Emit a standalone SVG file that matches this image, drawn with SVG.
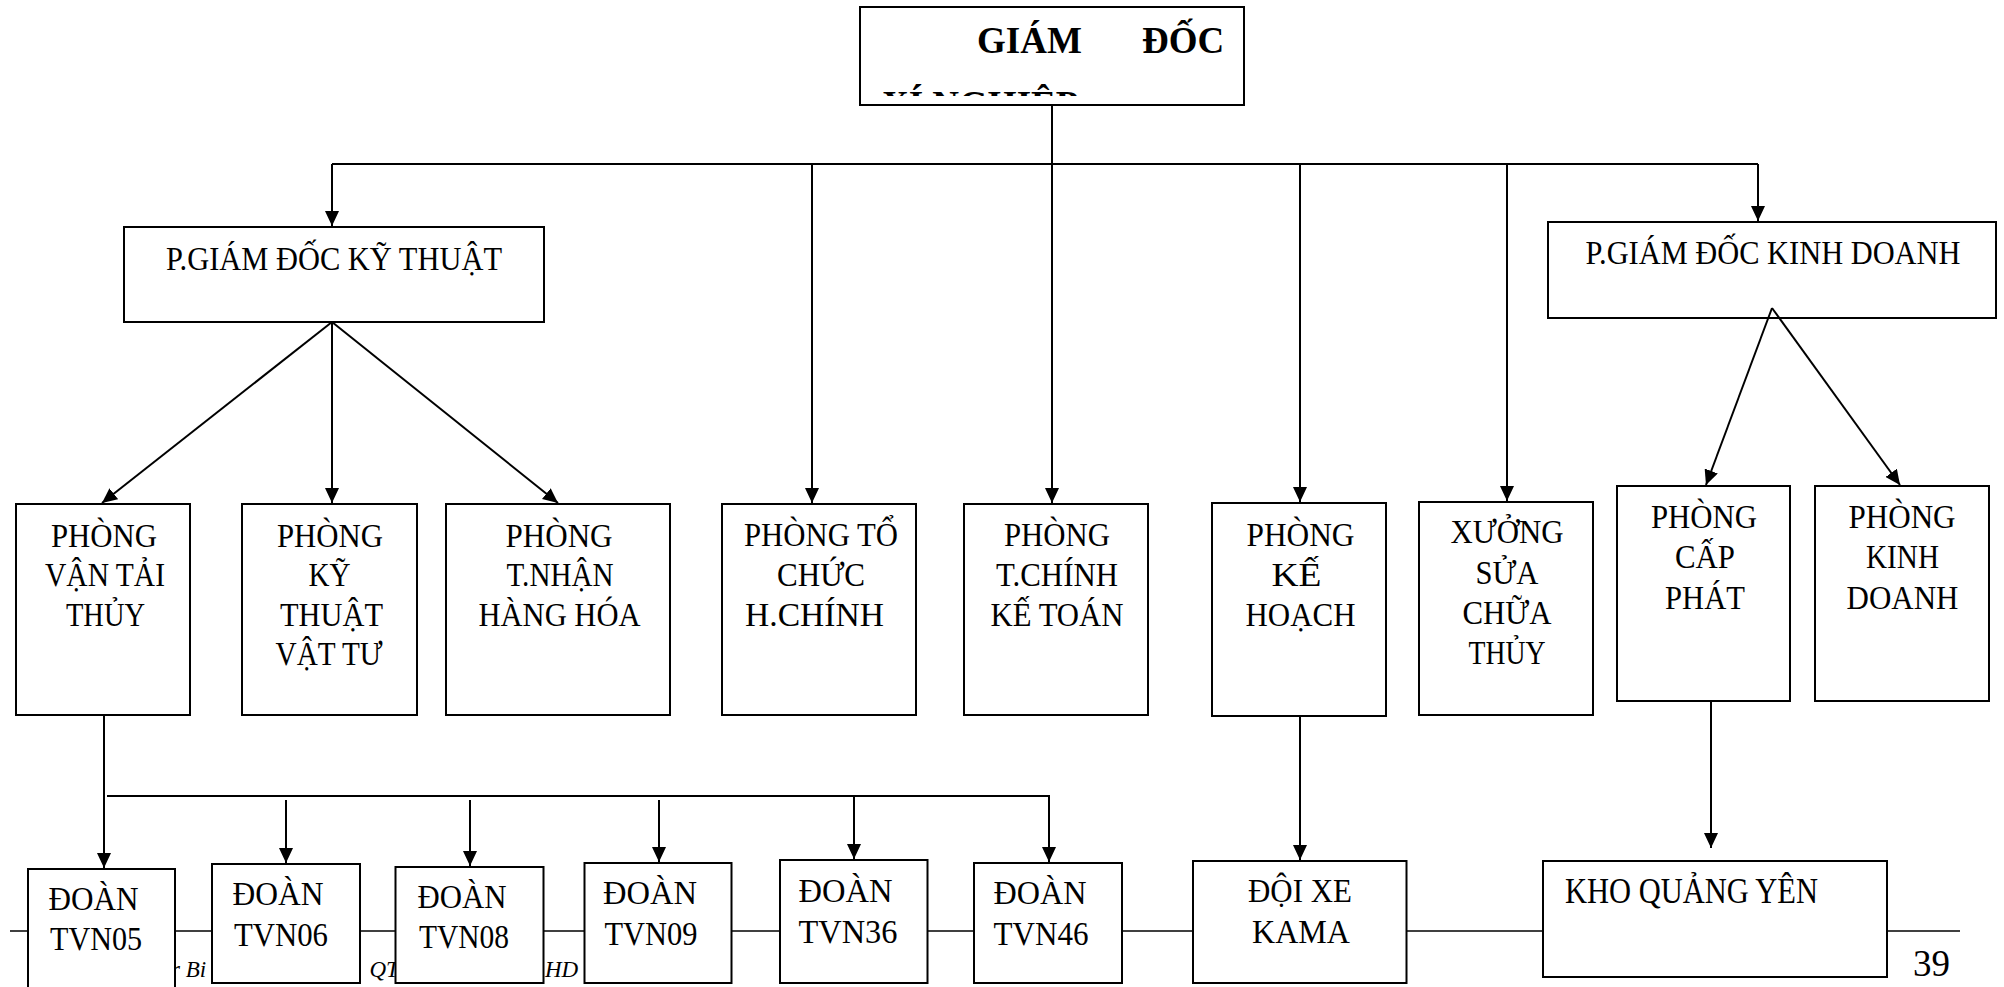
<svg xmlns="http://www.w3.org/2000/svg" width="2004" height="987" viewBox="0 0 2004 987">
<style>
.box{fill:#fff;stroke:#000;stroke-width:2}
.t{font-family:"Liberation Serif","Times New Roman",serif;font-size:33px;text-anchor:middle;fill:#000}
.tl{font-size:35px}
.b{font-family:"Liberation Serif","Times New Roman",serif;font-size:37px;font-weight:bold;fill:#000}
.c{fill:none;stroke:#000;stroke-width:2}
.a{marker-end:url(#ah)}
.foot{font-family:"Liberation Serif","Times New Roman",serif;font-style:italic;font-size:23px;fill:#000}
.pg{font-family:"Liberation Serif","Times New Roman",serif;font-size:37px;fill:#000}
</style>
<defs>
<marker id="ah" markerUnits="userSpaceOnUse" markerWidth="16" markerHeight="14" refX="15" refY="7" orient="auto"><path d="M0,0 L15,7 L0,14 z" fill="#000"/></marker>
<clipPath id="clipSub"><rect x="862" y="60" width="380" height="36"/></clipPath>
</defs>
<rect width="2004" height="987" fill="#fff"/>

<g id="footer">
<path d="M10,931 H1960" stroke="#000" stroke-width="1.6" fill="none"/>
<text class="foot" x="171" y="977">r Bi</text>
<text class="foot" x="369.5" y="977">QT</text>
<text class="foot" x="545" y="977">HD</text>
<text class="pg" x="1913" y="976">39</text>
</g>

<g id="giam-doc">
<rect class="box" x="860" y="7" width="384" height="98"/>
<text class="b" y="53"><tspan x="977">GIÁM</tspan><tspan x="1142">ĐỐC</tspan></text>
<text class="b" x="882" y="116.5" clip-path="url(#clipSub)">XÍ NGHIỆP</text>
</g>

<g id="pgd-ky-thuat">
<rect class="box" x="124" y="227" width="420" height="95"/>
<text class="t" x="334" y="270" style="font-size:34px" textLength="336" lengthAdjust="spacingAndGlyphs">P.GIÁM ĐỐC KỸ THUẬT</text>
</g>

<g id="pgd-kinh-doanh">
<rect class="box" x="1548" y="222" width="448" height="96"/>
<text class="t" x="1773" y="264" style="font-size:34px" textLength="375" lengthAdjust="spacingAndGlyphs">P.GIÁM ĐỐC KINH DOANH</text>
</g>

<g id="phong-van-tai-thuy">
<rect class="box" x="16" y="504" width="174" height="211"/>
<text class="t" x="104" y="547" textLength="106" lengthAdjust="spacingAndGlyphs">PHÒNG</text>
<text class="t" x="105" y="586" textLength="120" lengthAdjust="spacingAndGlyphs">VẬN TẢI</text>
<text class="t" x="105.5" y="626" textLength="79" lengthAdjust="spacingAndGlyphs">THỦY</text>
</g>

<g id="phong-ky-thuat-vat-tu">
<rect class="box" x="242" y="504" width="175" height="211"/>
<text class="t" x="330" y="547" textLength="106" lengthAdjust="spacingAndGlyphs">PHÒNG</text>
<text class="t" x="329.5" y="586" textLength="42" lengthAdjust="spacingAndGlyphs">KỸ</text>
<text class="t" x="331.5" y="626" textLength="103" lengthAdjust="spacingAndGlyphs">THUẬT</text>
<text class="t" x="329" y="665" textLength="107" lengthAdjust="spacingAndGlyphs">VẬT TƯ</text>
</g>

<g id="phong-t-nhan-hang-hoa">
<rect class="box" x="446" y="504" width="224" height="211"/>
<text class="t" x="559" y="547" textLength="107" lengthAdjust="spacingAndGlyphs">PHÒNG</text>
<text class="t" x="560" y="586" textLength="107" lengthAdjust="spacingAndGlyphs">T.NHẬN</text>
<text class="t" x="559.5" y="626" textLength="162" lengthAdjust="spacingAndGlyphs">HÀNG HÓA</text>
</g>

<g id="phong-to-chuc-h-chinh">
<rect class="box" x="722" y="504" width="194" height="211"/>
<text class="t" x="821" y="546" textLength="154" lengthAdjust="spacingAndGlyphs">PHÒNG TỔ</text>
<text class="t" x="821" y="586" textLength="88" lengthAdjust="spacingAndGlyphs">CHỨC</text>
<text class="t" x="814.5" y="626" textLength="139" lengthAdjust="spacingAndGlyphs">H.CHÍNH</text>
</g>

<g id="phong-t-chinh-ke-toan">
<rect class="box" x="964" y="504" width="184" height="211"/>
<text class="t" x="1057" y="546" textLength="106" lengthAdjust="spacingAndGlyphs">PHÒNG</text>
<text class="t" x="1057" y="586" textLength="122" lengthAdjust="spacingAndGlyphs">T.CHÍNH</text>
<text class="t" x="1057" y="626" textLength="133" lengthAdjust="spacingAndGlyphs">KẾ TOÁN</text>
</g>

<g id="phong-ke-hoach">
<rect class="box" x="1212" y="503" width="174" height="213"/>
<text class="t" x="1300.5" y="546" textLength="108" lengthAdjust="spacingAndGlyphs">PHÒNG</text>
<text class="t" x="1296.5" y="586" textLength="50" lengthAdjust="spacingAndGlyphs">KẾ</text>
<text class="t" x="1300.5" y="626" textLength="110" lengthAdjust="spacingAndGlyphs">HOẠCH</text>
</g>

<g id="xuong-sua-chua-thuy">
<rect class="box" x="1419" y="502" width="174" height="213"/>
<text class="t" x="1507" y="543" textLength="113" lengthAdjust="spacingAndGlyphs">XƯỞNG</text>
<text class="t" x="1507" y="584" textLength="63" lengthAdjust="spacingAndGlyphs">SỬA</text>
<text class="t" x="1507" y="624" textLength="89" lengthAdjust="spacingAndGlyphs">CHỮA</text>
<text class="t" x="1507" y="664" textLength="77" lengthAdjust="spacingAndGlyphs">THỦY</text>
</g>

<g id="phong-cap-phat">
<rect class="box" x="1617" y="486" width="173" height="215"/>
<text class="t" x="1704" y="528" textLength="106" lengthAdjust="spacingAndGlyphs">PHÒNG</text>
<text class="t" x="1705" y="568" textLength="60" lengthAdjust="spacingAndGlyphs">CẤP</text>
<text class="t" x="1705" y="609" textLength="80" lengthAdjust="spacingAndGlyphs">PHÁT</text>
</g>

<g id="phong-kinh-doanh">
<rect class="box" x="1815" y="486" width="174" height="215"/>
<text class="t" x="1902" y="528" textLength="107" lengthAdjust="spacingAndGlyphs">PHÒNG</text>
<text class="t" x="1902.5" y="568" textLength="73" lengthAdjust="spacingAndGlyphs">KINH</text>
<text class="t" x="1902.5" y="609" textLength="112" lengthAdjust="spacingAndGlyphs">DOANH</text>
</g>

<g id="doan-tvn05">
<rect class="box" x="28" y="869" width="147" height="130"/>
<text class="t" x="93.5" y="910" textLength="90" lengthAdjust="spacingAndGlyphs">ĐOÀN</text>
<text class="t" x="96" y="950" textLength="92" lengthAdjust="spacingAndGlyphs">TVN05</text>
</g>

<g id="doan-tvn06">
<rect class="box" x="212" y="864" width="148" height="119"/>
<text class="t" x="278" y="905" textLength="91" lengthAdjust="spacingAndGlyphs">ĐOÀN</text>
<text class="t" x="281" y="946" textLength="94" lengthAdjust="spacingAndGlyphs">TVN06</text>
</g>

<g id="doan-tvn08">
<rect class="box" x="395.5" y="867" width="148" height="116"/>
<text class="t" x="462" y="908" textLength="89" lengthAdjust="spacingAndGlyphs">ĐOÀN</text>
<text class="t" x="464" y="948" textLength="90" lengthAdjust="spacingAndGlyphs">TVN08</text>
</g>

<g id="doan-tvn09">
<rect class="box" x="584.5" y="863" width="147" height="120"/>
<text class="t" x="650" y="904" textLength="94" lengthAdjust="spacingAndGlyphs">ĐOÀN</text>
<text class="t" x="651" y="945" textLength="93" lengthAdjust="spacingAndGlyphs">TVN09</text>
</g>

<g id="doan-tvn36">
<rect class="box" x="780" y="860" width="147.5" height="123"/>
<text class="t" x="845.5" y="902" textLength="94" lengthAdjust="spacingAndGlyphs">ĐOÀN</text>
<text class="t" x="848" y="943" textLength="99" lengthAdjust="spacingAndGlyphs">TVN36</text>
</g>

<g id="doan-tvn46">
<rect class="box" x="974" y="863" width="148" height="120"/>
<text class="t" x="1040" y="904" textLength="93" lengthAdjust="spacingAndGlyphs">ĐOÀN</text>
<text class="t" x="1041" y="945" textLength="95" lengthAdjust="spacingAndGlyphs">TVN46</text>
</g>

<g id="doi-xe-kama">
<rect class="box" x="1193" y="861" width="213.5" height="122"/>
<text class="t" x="1300" y="902" textLength="104" lengthAdjust="spacingAndGlyphs">ĐỘI XE</text>
<text class="t" x="1301" y="943" textLength="98" lengthAdjust="spacingAndGlyphs">KAMA</text>
</g>

<g id="kho-quang-yen">
<rect class="box" x="1543" y="861" width="344" height="116"/>
<text class="t tl" x="1565" y="903" style="text-anchor:start" textLength="253" lengthAdjust="spacingAndGlyphs">KHO QUẢNG YÊN</text>
</g>

<g id="connectors">
<path class="c" d="M1052,105 V164"/>
<path class="c" d="M332,164 H1758"/>
<path class="c a" d="M332,164 V226"/>
<path class="c a" d="M812,164 V503"/>
<path class="c a" d="M1052,164 V503"/>
<path class="c a" d="M1300,164 V502"/>
<path class="c a" d="M1507,164 V501"/>
<path class="c a" d="M1758,164 V221"/>
<path class="c a" d="M332,322 L102,503"/>
<path class="c a" d="M332,322 V503"/>
<path class="c a" d="M332,322 L558,503"/>
<path class="c a" d="M1772,308 L1706,485"/>
<path class="c a" d="M1772,308 L1900,485"/>
<path class="c a" d="M1300,716 V860"/>
<path class="c a" d="M1711,701 V848"/>
<path class="c a" d="M104,715 V868"/>
<path class="c a" d="M107,796 H1049 V862"/>
<path class="c a" d="M286,800 V863"/>
<path class="c a" d="M470,800 V866"/>
<path class="c a" d="M659,800 V862"/>
<path class="c a" d="M854,797 V859"/>
</g>
</svg>
